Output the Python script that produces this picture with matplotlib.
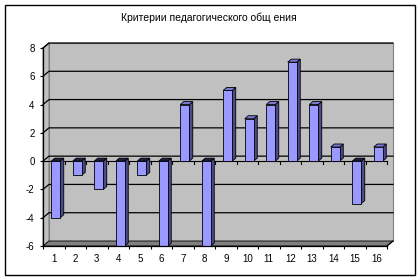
import matplotlib.pyplot as plt
from matplotlib.patches import Polygon, Rectangle

# chart data
categories = list(range(1, 17))
values = [-4, -1, -2, -6, -1, -6, 4, -6, 5, 3, 4, 7, 4, 1, -3, 1]
y_ticks = [-6, -4, -2, 0, 2, 4, 6, 8]
title = "Критерии педагогического общ ения"

plt.rcParams['font.family'] = ['Liberation Sans', 'DejaVu Sans']

W, H = 420, 279
fig = plt.figure(figsize=(W / 100, H / 100), dpi=100)
fig.patch.set_facecolor('white')

# outer border
fig.add_artist(Rectangle((4.5 / W, 4.5 / H), 410.5 / W, 269.5 / H,
                         transform=fig.transFigure, fill=False,
                         edgecolor='black', linewidth=1.0))

# front plane of the plot
x0, x1 = 43, 387
ytop, ybot = 48, 246
ax = fig.add_axes([x0 / W, (H - ybot) / H, (x1 - x0) / W, (ybot - ytop) / H])
ax.set_xlim(0.5, 16.5)
ax.set_ylim(-6, 8)
ax.patch.set_visible(False)

px_x = (x1 - x0) / 16.0
px_y = (ybot - ytop) / 14.0

# wall depth
wdx = 6 / px_x
wdy = 5 / px_y
# bar geometry
shift = 2 / px_x
bw = 9 / px_x
bdx = 3.5 / px_x
bdy = 3 / px_y

wall = '#C0C0C0'
floor = '#808080'
front = '#9999FF'
side = '#4B4B8C'
top_pos = '#7A7AD6'
top_neg = '#1E1E40'

lo, hi = -6, 8
xl, xr = 0.5, 16.5

# back wall
ax.add_patch(Polygon([(xl + wdx, lo + wdy), (xr + wdx, lo + wdy),
                      (xr + wdx, hi + wdy), (xl + wdx, hi + wdy)],
                     closed=True, facecolor=wall, edgecolor='#808080',
                     linewidth=0.8, clip_on=False, zorder=0))
# side wall
ax.add_patch(Polygon([(xl, lo), (xl, hi), (xl + wdx, hi + wdy), (xl + wdx, lo + wdy)],
                     closed=True, facecolor=wall, edgecolor='#808080',
                     linewidth=0.8, clip_on=False, zorder=0))
# floor
ax.add_patch(Polygon([(xl, lo), (xr, lo), (xr + wdx, lo + wdy), (xl + wdx, lo + wdy)],
                     closed=True, facecolor=floor, edgecolor='black',
                     linewidth=0.6, clip_on=False, zorder=0.5))

# gridlines on walls
for yv in y_ticks[1:]:
    ax.plot([xl, xl + wdx, xr + wdx], [yv, yv + wdy, yv + wdy],
            color='black', linewidth=0.9, clip_on=False, zorder=1)

# front zero line with ticks
ax.plot([xl, xr], [0, 0], color='black', linewidth=0.8, clip_on=False, zorder=1)
tk = 3 / px_y
for b in range(17):
    ax.plot([xl + b, xl + b], [0, -tk], color='black', linewidth=0.8,
            clip_on=False, zorder=1)

# bars
for c, v in zip(categories, values):
    left = c - bw / 2 + shift
    right = left + bw
    ymin, ymax = min(0, v), max(0, v)
    face_kw = dict(closed=True, edgecolor='black', linewidth=0.6, clip_on=False, zorder=3)
    # side face
    ax.add_patch(Polygon([(right, ymin), (right + bdx, ymin + bdy),
                          (right + bdx, ymax + bdy), (right, ymax)],
                         facecolor=side, **face_kw))
    # top face
    ax.add_patch(Polygon([(left, ymax), (right, ymax),
                          (right + bdx, ymax + bdy), (left + bdx, ymax + bdy)],
                         facecolor=top_pos if v > 0 else top_neg, **face_kw))
    # front face
    ax.add_patch(Polygon([(left, ymin), (right, ymin), (right, ymax), (left, ymax)],
                         facecolor=front, **face_kw))

# axes
for s in ['top', 'right']:
    ax.spines[s].set_visible(False)
for s in ['left', 'bottom']:
    ax.spines[s].set_linewidth(0.9)
    ax.spines[s].set_zorder(4)

ax.set_yticks(y_ticks)
ax.set_yticklabels([str(t) for t in y_ticks])
ax.tick_params(axis='y', direction='out', length=2.5, width=0.8, pad=3.5, labelsize=7)

ax.set_xticks(categories)
ax.set_xticklabels([str(c) for c in categories])
ax.set_xticks([xl + b for b in range(17)], minor=True)
ax.tick_params(axis='x', which='major', length=0, pad=6, labelsize=7)
ax.tick_params(axis='x', which='minor', direction='out', length=2.5, width=0.8)

# top-left and bottom-right depth edges
ax.plot([xl, xl + wdx], [hi, hi + wdy], color='black', linewidth=0.6, clip_on=False, zorder=2)
ax.plot([xr, xr + wdx], [lo, lo + wdy], color='black', linewidth=0.9, clip_on=False, zorder=4)

fig.text(209 / W, 1 - 18 / H, title, ha='center', va='center', fontsize=7.5)

fig.savefig('out.png', dpi=100)
